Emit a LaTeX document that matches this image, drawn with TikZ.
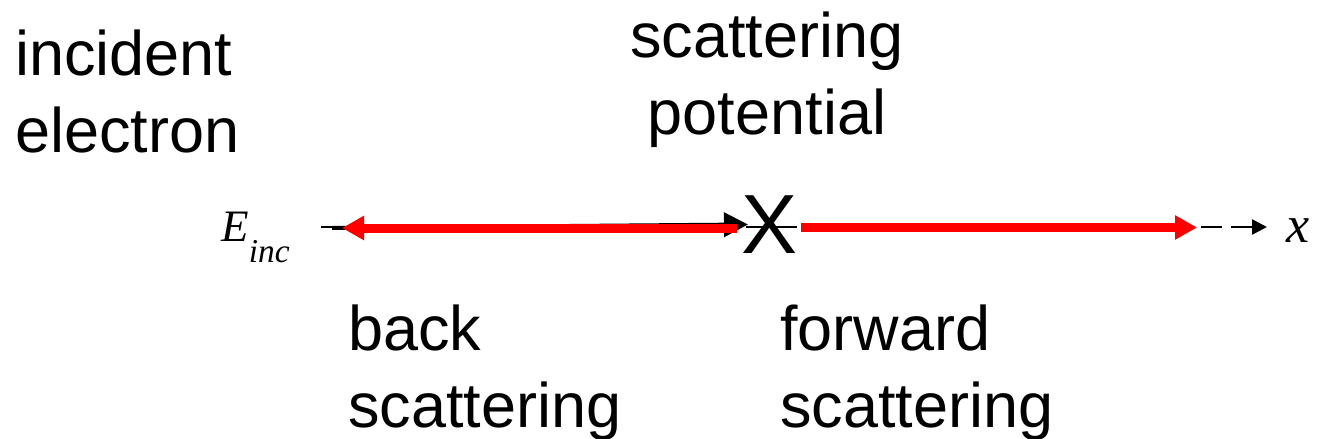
\documentclass[tikz,border=0pt]{standalone}
\usepackage{fontspec}
\setmainfont{Liberation Sans}
\newfontfamily\serifit{Liberation Serif}
\usetikzlibrary{arrows.meta}
\definecolor{scat}{HTML}{FF0000}

\begin{document}
\begin{tikzpicture}[x=0.02cm,y=-0.02cm,
    lbl/.style={inner sep=0pt,align=left,font=\fontsize{35.85pt}{43.8pt}\selectfont},
    sym/.style={inner sep=0pt,font=\serifit\itshape},
    axis/.style={draw=black,line width=0.05cm,dash pattern=on 0.42cm off 0.1868cm,-{Triangle[length=0.3cm,width=0.3cm]}},
    incid/.style={draw=black,line width=0.08cm,-{Triangle[length=0.48cm,width=0.48cm]}},
    scatter/.style={draw=scat,line width=0.18cm,-{Triangle[length=0.44cm,width=0.46cm]}}
  ]
    \useasboundingbox (0,0) rectangle (1317,439);

    % labels (base = baseline of the last line)
    \node[lbl,anchor=base west] (inc) at (15,152) {incident\\electron};
    \node[lbl,anchor=base,align=center] (pot) at (767,134) {scattering\\potential};
    \node[lbl,anchor=base west] (back) at (348,427) {back\\scattering};
    \node[lbl,anchor=base west] (fwd) at (780,427) {forward\\scattering};
    \node[sym,anchor=base west,font=\serifit\itshape\fontsize{25.6pt}{25.6pt}\selectfont] (einc) at (221,241)
      {E\raisebox{-12pt}{\fontsize{19pt}{19pt}\selectfont inc}};
    \node[sym,anchor=base west,font=\serifit\itshape\fontsize{29.6pt}{29.6pt}\selectfont] (xlab) at (1286,242) {x};

    % axis and scattering centre
    \coordinate (axl) at (321,227);
    \coordinate (axr) at (1267,227);
    \draw[axis] (axl) -- (axr);
    \node[inner sep=0pt,font=\fontsize{47.8pt}{47.8pt}\selectfont] (pot0) at (769,225) {X};

    % incident wave and scattered waves
    \coordinate (incl) at (332,228);
    \coordinate (incr) at (748,224.5);
    \coordinate (backr) at (737,228);
    \coordinate (backl) at (342,228);
    \coordinate (fwdl) at (801,227.5);
    \coordinate (fwdr) at (1197,227.5);
    \draw[incid] (incl) -- (incr);
    \draw[scatter] (backr) -- (backl);
    \draw[scatter] (fwdl) -- (fwdr);
\end{tikzpicture}
\end{document}
